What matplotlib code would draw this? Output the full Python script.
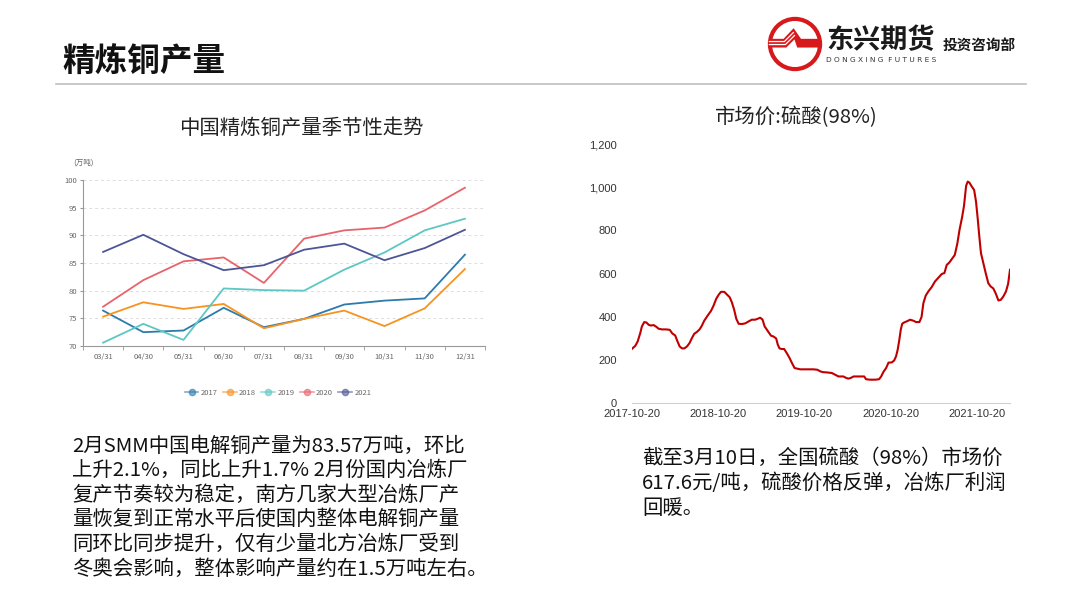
import numpy as np
import pandas as pd
import matplotlib
matplotlib.use("Agg")
import matplotlib.pyplot as plt
from matplotlib.patches import Circle, Polygon
from matplotlib.lines import Line2D

plt.rcParams['font.family'] = ['Noto Sans CJK SC', 'DejaVu Sans']

# 季节性走势数据 (万吨)
months = ["03/31", "04/30", "05/31", "06/30", "07/31", "08/31", "09/30", "10/31", "11/30", "12/31"]
y2017 = [76.4, 72.5, 72.8, 76.9, 73.4, 74.9, 77.5, 78.2, 78.6, 86.5]
y2018 = [75.3, 77.9, 76.7, 77.6, 73.2, 74.9, 76.4, 73.6, 76.8, 83.9]
y2019 = [70.6, 74.0, 71.1, 80.4, 80.1, 80.0, 83.8, 86.9, 90.9, 93.0]
y2020 = [77.1, 81.9, 85.3, 86.0, 81.4, 89.4, 90.9, 91.4, 94.5, 98.6]
y2021 = [87.0, 90.1, 86.6, 83.7, 84.6, 87.4, 88.5, 85.5, 87.7, 91.0]

# 硫酸(98%)市场价
acid_dates = [
    "2017-10-20", "2017-11-03", "2017-11-13", "2017-11-24", "2017-12-01", "2017-12-11",
    "2017-12-20", "2017-12-30", "2018-01-08", "2018-01-20", "2018-01-31", "2018-02-10",
    "2018-02-24", "2018-03-14", "2018-03-29", "2018-04-09", "2018-04-21", "2018-05-01",
    "2018-05-10", "2018-05-20", "2018-05-30", "2018-06-10", "2018-06-21", "2018-07-01",
    "2018-07-11", "2018-07-22", "2018-08-03", "2018-08-12", "2018-08-22", "2018-09-05",
    "2018-09-20", "2018-10-01", "2018-10-12", "2018-10-22", "2018-11-01", "2018-11-15",
    "2018-11-26", "2018-12-08", "2018-12-17", "2018-12-27", "2019-01-05", "2019-01-15",
    "2019-01-29", "2019-02-12", "2019-02-26", "2019-03-12", "2019-03-26", "2019-04-05",
    "2019-04-16", "2019-04-26", "2019-05-05", "2019-05-15", "2019-05-23", "2019-06-01",
    "2019-06-12", "2019-06-23", "2019-06-30", "2019-07-07", "2019-07-17", "2019-07-27",
    "2019-08-07", "2019-08-19", "2019-08-29", "2019-09-09", "2019-09-22", "2019-10-03",
    "2019-10-31", "2019-11-28", "2019-12-15", "2019-12-26", "2020-01-07", "2020-01-21",
    "2020-02-14", "2020-02-28", "2020-03-13", "2020-04-03", "2020-04-15", "2020-04-24",
    "2020-05-04", "2020-05-16", "2020-06-06", "2020-06-30", "2020-07-08", "2020-07-25",
    "2020-08-15", "2020-09-01", "2020-09-10", "2020-09-20", "2020-10-01", "2020-10-11",
    "2020-10-25", "2020-11-04", "2020-11-12", "2020-11-19", "2020-11-26", "2020-12-02",
    "2020-12-08", "2020-12-16", "2020-12-27", "2021-01-11", "2021-01-25", "2021-02-05",
    "2021-02-19", "2021-02-28", "2021-03-08", "2021-03-18", "2021-03-29", "2021-04-12",
    "2021-04-26", "2021-05-11", "2021-05-25", "2021-06-05", "2021-06-15", "2021-06-26",
    "2021-07-07", "2021-07-19", "2021-07-30", "2021-08-08", "2021-08-19", "2021-08-27",
    "2021-09-05", "2021-09-12", "2021-09-19", "2021-09-29", "2021-10-09", "2021-10-17",
    "2021-10-24", "2021-10-31", "2021-11-07", "2021-11-17", "2021-11-27", "2021-12-08",
    "2021-12-18", "2021-12-29", "2022-01-08", "2022-01-20", "2022-01-30", "2022-02-10",
    "2022-02-21", "2022-03-02", "2022-03-10",
]
acid_price = [
    251, 265, 285, 324, 355, 375, 373, 362, 359, 361, 353, 344,
    341, 341, 339, 322, 313, 285, 262, 253, 253, 262, 278, 301,
    321, 329, 342, 358, 381, 404, 427, 452, 483, 501, 515, 515,
    503, 490, 467, 432, 390, 367, 366, 369, 378, 386, 386, 390,
    395, 387, 355, 339, 327, 312, 308, 299, 270, 253, 250, 250,
    231, 208, 185, 162, 159, 156, 156, 156, 154, 147, 143, 142,
    139, 131, 123, 123, 116, 113, 116, 123, 123, 123, 110, 108,
    108, 110, 123, 145, 162, 187, 188, 197, 216, 247, 293, 339,
    367, 373, 378, 386, 381, 375, 375, 398, 463, 498, 517, 537,
    563, 581, 598, 602, 640, 651, 668, 686, 740, 802, 861, 913,
    1006, 1026, 1021, 1003, 987, 933, 856, 771, 694, 648, 602, 555,
    540, 531, 509, 475, 478, 494, 517, 552, 617.6,
]
acid_ticks = ["2017-10-20", "2018-10-20", "2019-10-20", "2020-10-20", "2021-10-20"]

W, H = 1080, 601
fig = plt.figure(figsize=(W / 100, H / 100), dpi=100)
fig.patch.set_facecolor("white")


def fx(px):
    return px / W


def fy(py):
    return 1 - py / H


# 页面标题和分割线
fig.text(fx(62), fy(62), "精炼铜产量", fontsize=23.5, fontweight="bold", color="#111111",
         ha="left", va="center")
fig.add_artist(Line2D([fx(56), fx(1026)], [fy(84), fy(84)], color="#bfbfbf", lw=1.2))

# 公司标志
logo = fig.add_axes([fx(765), fy(74), fx(60), 60 / H])
logo.set_xlim(-1.1, 1.1)
logo.set_ylim(-1.1, 1.1)
logo.set_aspect("equal")
logo.axis("off")
red = "#d7191c"
logo.add_patch(Polygon([[-0.94, 0.19], [-0.42, 0.19], [-0.05, 0.58], [0.22, 0.19],
                        [0.92, 0.19], [0.92, -0.13], [0.08, -0.13], [-0.02, 0.17],
                        [-0.32, -0.13], [-0.94, -0.13]],
                       closed=True, fc=red, ec="none"))
for yk, xk in [(0.09, -0.39), (-0.02, -0.35)]:
    logo.plot([-0.94, xk, xk + 0.33], [yk, yk, yk + 0.33], color="white", lw=0.9,
              solid_joinstyle="miter")
logo.add_patch(Circle((0, 0), 0.92, fill=False, ec=red, lw=3.0))
fig.text(fx(826), fy(40), "东兴期货", fontsize=19.5, fontweight="bold", color="#1a1a1a",
         ha="left", va="center")
fig.text(fx(826), fy(60), "D O N G X I N G  F U T U R E S", fontsize=5.3,
         color="#333333", ha="left", va="center", family=["DejaVu Sans"])
fig.text(fx(943), fy(46), "投资咨询部", fontsize=10.5, fontweight="bold", color="#1a1a1a",
         ha="left", va="center")

# 左图: 季节性走势
fig.text(fx(301), fy(128), "中国精炼铜产量季节性走势", fontsize=14.7, color="#222222",
         ha="center", va="center")
fig.text(fx(73), fy(163), "(万吨)", fontsize=5.5, color="#666666", ha="left", va="center")

ax = fig.add_axes([fx(83), fy(346), fx(485 - 83), (346 - 180) / H])
x = np.arange(len(months))
series = [("2017", y2017, "#2c7bab"), ("2018", y2018, "#f7931e"),
          ("2019", y2019, "#5cc7c3"), ("2020", y2020, "#e8636b"),
          ("2021", y2021, "#4d5597")]
for name, vals, col in series:
    ax.plot(x, vals, color=col, lw=1.3, label=name)
ax.set_xlim(-0.5, len(months) - 0.5)
ax.set_ylim(70, 100)
ax.set_yticks(np.arange(70, 101, 5))
ax.set_xticks(x)
ax.set_xticklabels(months)
ax.set_xticks(np.arange(-0.5, len(months), 1), minor=True)
ax.tick_params(axis="x", which="major", length=0, labelsize=5.5, labelcolor="#666666", pad=5)
ax.tick_params(axis="x", which="minor", length=3, color="#999999")
ax.tick_params(axis="y", length=2, color="#999999", labelsize=5.5, labelcolor="#666666", pad=2)
ax.grid(axis="y", color="#dddddd", ls=(0, (3, 3)), lw=0.7)
ax.set_axisbelow(True)
for s in ["top", "right"]:
    ax.spines[s].set_visible(False)
for s in ["left", "bottom"]:
    ax.spines[s].set_color("#999999")
    ax.spines[s].set_linewidth(0.8)

handles = [Line2D([0], [0], color=col, lw=1.2, alpha=0.6, marker="o", markersize=4.5,
                  markerfacecolor=col, markeredgecolor=col) for _, _, col in series]
fig.legend(handles, [s[0] for s in series], loc="center", bbox_to_anchor=(fx(278), fy(393)),
           ncol=5, frameon=False, fontsize=5.5, handlelength=1.8, columnspacing=0.7,
           handletextpad=0.3, labelcolor="#666666")

# 右图: 硫酸价格
fig.text(fx(796), fy(117), "市场价:硫酸(98%)", fontsize=14.7, color="#222222",
         ha="center", va="center")
ax2 = fig.add_axes([fx(632), fy(403), fx(1010 - 632), (403 - 144) / H])
dates = pd.to_datetime(acid_dates)
ax2.plot(dates, acid_price, color="#c00000", lw=1.5)
ax2.set_xlim(pd.Timestamp("2017-10-20"), pd.Timestamp("2022-03-10"))
ax2.set_ylim(0, 1200)
ax2.set_yticks(np.arange(0, 1201, 200))
ax2.set_yticklabels([f"{v:,}" for v in range(0, 1201, 200)])
ax2.set_xticks(pd.to_datetime(acid_ticks))
ax2.set_xticklabels(acid_ticks)
ax2.tick_params(axis="both", length=0, labelsize=8, labelcolor="#333333")
ax2.tick_params(axis="y", pad=11)
ax2.tick_params(axis="x", pad=4)
for lab in ax2.get_xticklabels() + ax2.get_yticklabels():
    lab.set_family(["Liberation Sans", "DejaVu Sans"])
for s in ["top", "right", "left"]:
    ax2.spines[s].set_visible(False)
ax2.spines["bottom"].set_color("#d0d0d0")
ax2.spines["bottom"].set_linewidth(0.8)

# 文字说明
left_lines = [
    "2月SMM中国电解铜产量为83.57万吨，环比",
    "上升2.1%，同比上升1.7% 2月份国内冶炼厂",
    "复产节奏较为稳定，南方几家大型冶炼厂产",
    "量恢复到正常水平后使国内整体电解铜产量",
    "同环比同步提升，仅有少量北方冶炼厂受到",
    "冬奥会影响，整体影响产量约在1.5万吨左右。",
]
for i, line in enumerate(left_lines):
    fig.text(fx(72), fy(446 + i * 24.6), line, fontsize=14.7, color="#111111",
             ha="left", va="center")

right_lines = [
    "截至3月10日，全国硫酸（98%）市场价",
    "617.6元/吨，硫酸价格反弹，冶炼厂利润",
    "回暖。",
]
for i, line in enumerate(right_lines):
    fig.text(fx(642), fy(458 + i * 25), line, fontsize=14.7, color="#111111",
             ha="left", va="center")

fig.savefig("out.png", dpi=100)
